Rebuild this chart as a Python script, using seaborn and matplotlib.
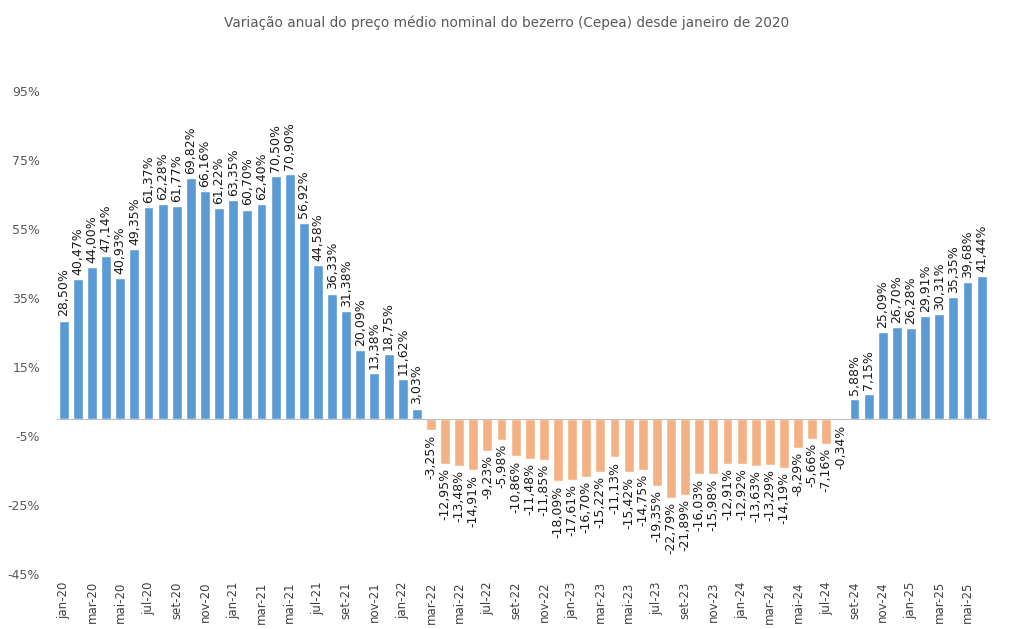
import matplotlib
matplotlib.use('Agg')
import matplotlib.pyplot as plt
import matplotlib.ticker as mticker
import numpy as np
import pandas as pd
import seaborn as sns

# Variação anual (%) do preço médio nominal do bezerro, jan-20 a jun-25
meses_abrev = ['jan', 'fev', 'mar', 'abr', 'mai', 'jun', 'jul', 'ago', 'set', 'out', 'nov', 'dez']
anos = ['20', '21', '22', '23', '24', '25']
meses = [f'{m}-{a}' for a in anos for m in meses_abrev][:66]

variacao = [
    28.50, 40.47, 44.00, 47.14, 40.93, 49.35, 61.37, 62.28, 61.77, 69.82, 66.16, 61.22,
    63.35, 60.70, 62.40, 70.50, 70.90, 56.92, 44.58, 36.33, 31.38, 20.09, 13.38, 18.75,
    11.62, 3.03, -3.25, -12.95, -13.48, -14.91, -9.23, -5.98, -10.86, -11.48, -11.85, -18.09,
    -17.61, -16.70, -15.22, -11.13, -15.42, -14.75, -19.35, -22.79, -21.89, -16.03, -15.98, -12.91,
    -12.92, -13.63, -13.29, -14.19, -8.29, -5.66, -7.16, -0.34, 5.88, 7.15, 25.09, 26.70,
    26.28, 29.91, 30.31, 35.35, 39.68, 41.44,
]

# período de queda (barras laranja)
inicio_queda = 'mar-22'
fim_queda = 'jul-24'

y_ticks = [-45, -25, -5, 15, 35, 55, 75, 95]

AZUL = '#5B9BD5'
LARANJA = '#F4B183'

df = pd.DataFrame({'mes': meses, 'variacao': variacao})
i0, i1 = meses.index(inicio_queda), meses.index(fim_queda)
cores = [LARANJA if i0 <= i <= i1 else AZUL for i in range(len(meses))]
rotulos = [f'{v:.2f}%'.replace('.', ',') for v in variacao]

sns.set_style('white')
plt.rcParams['font.family'] = ['DejaVu Sans']

fig = plt.figure(figsize=(10.13, 6.29), dpi=100)
ax = fig.add_axes([0.056, 0.087, 0.92, 0.768])

sns.barplot(data=df, x='mes', y='variacao', hue='mes', palette=cores, legend=False,
            width=0.7, saturation=1, ax=ax)

for container, rot in zip(ax.containers, rotulos):
    ax.bar_label(container, labels=[rot], rotation=90, padding=3, fontsize=9, color='#1a1a1a')

ax.set_ylim(-45, 95)
ax.set_xlim(-0.5, len(meses) - 0.5)
ax.set_yticks(y_ticks)
ax.yaxis.set_major_formatter(mticker.FuncFormatter(lambda v, p: f'{v:.0f}%'))
ax.tick_params(axis='y', length=0, labelsize=9, labelcolor='#595959', pad=12)

# linha do zero com marcas a cada dois meses
for s in ['top', 'right', 'left']:
    ax.spines[s].set_visible(False)
ax.spines['bottom'].set_position(('data', 0))
ax.spines['bottom'].set_color('#BFBFBF')
ax.set_xticks(np.arange(-0.5, len(meses), 2))
ax.set_xticklabels([])
ax.tick_params(axis='x', direction='out', length=5, color='#BFBFBF', width=1)

# rótulos dos meses na base do gráfico
sec = ax.secondary_xaxis(0.0)
sec.set_xticks(np.arange(0, len(meses), 2))
sec.set_xticklabels(meses[::2], rotation=90, fontsize=8.5, color='#404040')
sec.tick_params(length=0, pad=5)
sec.spines['bottom'].set_visible(False)

ax.set_xlabel('')
ax.set_ylabel('')
fig.suptitle('Variação anual do preço médio nominal do bezerro (Cepea) desde janeiro de 2020',
             y=0.975, fontsize=9.8, color='#595959')

fig.savefig('out.png', dpi=100)
